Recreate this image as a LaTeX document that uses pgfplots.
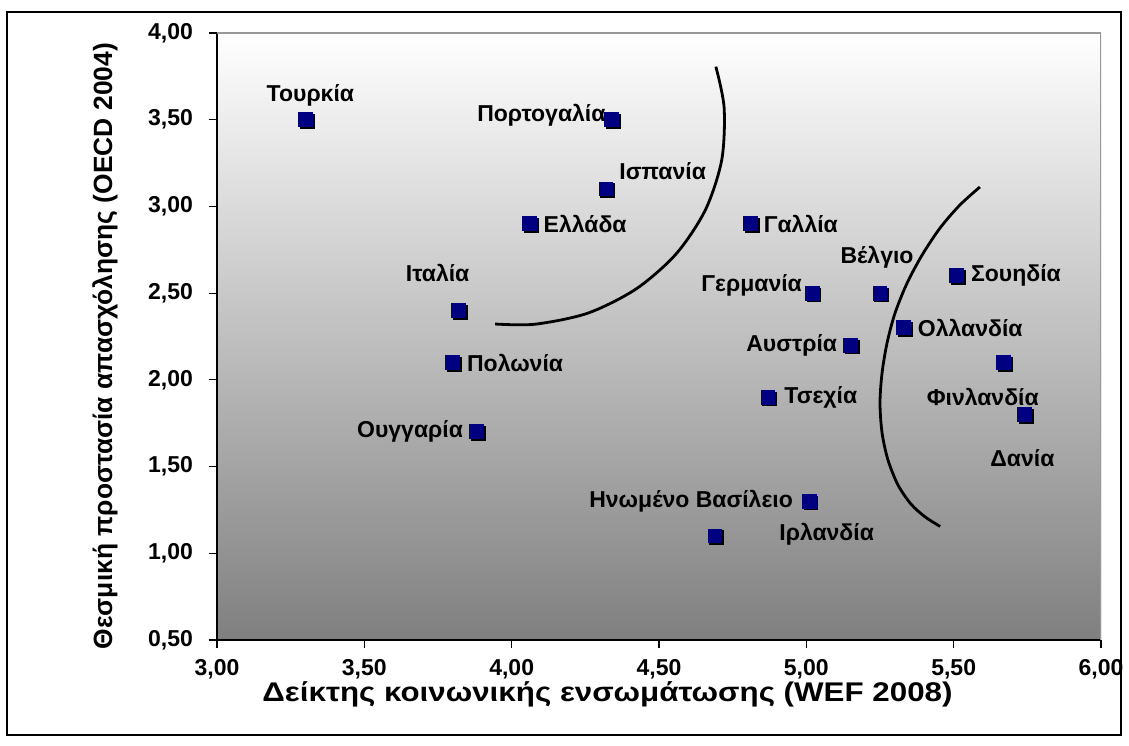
\documentclass[border=0pt]{standalone}
\usepackage{pgfplots}
\pgfplotsset{compat=1.18}
\usepackage{graphicx}
\usepackage{fontspec}
\setmainfont{Liberation Sans}
\definecolor{navy}{HTML}{000080}

% square marker with a small black drop shadow
\pgfdeclareplotmark{shsq}{%
  \pgfpathrectangle{\pgfpoint{-\pgfplotmarksize+0.9pt}{-\pgfplotmarksize-0.9pt}}{\pgfpoint{2\pgfplotmarksize}{2\pgfplotmarksize}}%
  \pgfsetfillcolor{black}\pgfusepath{fill}%
  \pgfpathrectangle{\pgfpoint{-\pgfplotmarksize}{-\pgfplotmarksize}}{\pgfpoint{2\pgfplotmarksize}{2\pgfplotmarksize}}%
  \pgfsetfillcolor{navy}\pgfusepath{fill}%
}

\begin{document}
\begin{tikzpicture}
\begin{axis}[
    scale only axis,
    width=442pt, height=303.5pt,
    xmin=3, xmax=6, ymin=0.5, ymax=4,
    xtick={3,3.5,...,6}, ytick={0.5,1,...,4},
    axis x line*=bottom, axis y line*=left,
    axis line style={black, line width=0.6pt},
    tick align=outside, major tick length=4pt,
    tick style={black, line width=0.6pt},
    xticklabel={\pgfmathprintnumber[fixed, fixed zerofill, precision=2, use comma, assume math mode=true]{\tick}},
    yticklabel={\pgfmathprintnumber[fixed, fixed zerofill, precision=2, use comma, assume math mode=true]{\tick}},
    ticklabel style={font=\fontsize{11.5}{12}\selectfont\bfseries},
    xticklabel style={yshift=-2pt},
    yticklabel style={xshift=-4.5pt},
    axis background/.style={shade, top color=white, bottom color=gray},
    xlabel={\scalebox{1.16}[1]{Δείκτης κοινωνικής ενσωμάτωσης (WEF 2008)}},
    ylabel={Θεσμική προστασία απασχόλησης (OECD 2004)},
    xlabel style={font=\fontsize{13.5}{14}\selectfont\bfseries, at={(axis description cs:0.4417,-0.089)}, anchor=center},
    ylabel style={font=\fontsize{13.2}{14}\selectfont\bfseries, at={(axis description cs:-0.1267,0.484)}, anchor=center},
]
\coordinate (sw) at (rel axis cs:0,0);
\coordinate (ne) at (rel axis cs:1,1);
\draw[gray!80, line width=0.6pt] (rel axis cs:0,1) -- (rel axis cs:1,1) -- (rel axis cs:1,0);

% the two hand-drawn arcs
\addplot[smooth, black, line width=1.4pt, no markers] coordinates {
  (4.693,3.806) (4.721,3.570) (4.713,3.269) (4.658,2.982) (4.559,2.728)
  (4.423,2.525) (4.259,2.385) (4.080,2.321) (3.944,2.322)};
\addplot[smooth, black, line width=1.4pt, no markers] coordinates {
  (5.589,3.112) (5.521,3.008) (5.454,2.876) (5.393,2.720) (5.342,2.558)
  (5.301,2.385) (5.274,2.213) (5.257,2.040) (5.250,1.867) (5.257,1.694)
  (5.277,1.538) (5.311,1.394) (5.355,1.284) (5.403,1.210) (5.454,1.155)};

% x, y, label, label anchor, label offset (pt)
\addplot[only marks, mark=shsq, mark size=3.7pt,
    nodes near coords, point meta=explicit symbolic,
    visualization depends on={value \thisrow{anc}\as\lanc},
    visualization depends on={value \thisrow{dx}\as\lx},
    visualization depends on={value \thisrow{dy}\as\ly},
    every node near coord/.append style={anchor=\lanc, xshift=\lx pt, yshift=\ly pt,
        inner sep=0pt, text=black, font=\fontsize{11.5}{12}\selectfont\bfseries},
] table[col sep=comma, x=x, y=y, meta=name] {
x,y,name,anc,dx,dy
3.30,3.50,Τουρκία,center,2.5,12
4.34,3.50,Πορτογαλία,east,-3,2
4.32,3.10,Ισπανία,west,6.5,9
4.06,2.90,Ελλάδα,west,7,0
3.82,2.40,Ιταλία,center,-10.5,18.5
3.80,2.10,Πολωνία,west,7,0
3.88,1.70,Ουγγαρία,east,-6.5,0
4.81,2.90,Γαλλία,west,6.5,0
5.02,2.50,Γερμανία,east,-5,4
5.25,2.50,Βέλγιο,center,-1.5,18
5.51,2.60,Σουηδία,west,7,0
5.33,2.30,Ολλανδία,west,7,0
5.15,2.20,Αυστρία,east,-6.5,0
5.67,2.10,Φινλανδία,center,-10.5,-17
5.74,1.80,Δανία,center,-1,-22
4.87,1.90,Τσεχία,west,8,0
5.01,1.30,Ηνωμένο Βασίλειο,east,-8,0
4.69,1.10,Ιρλανδία,west,32,1
};
\end{axis}
\pgfresetboundingbox
\path[use as bounding box] ([xshift=-108.5pt,yshift=-52.5pt]sw) rectangle ([xshift=14pt,yshift=16.5pt]ne);
\draw[line width=1.2pt] ([xshift=-105pt,yshift=-47.5pt]sw) rectangle ([xshift=10pt,yshift=10.5pt]ne);
\end{tikzpicture}
\end{document}
